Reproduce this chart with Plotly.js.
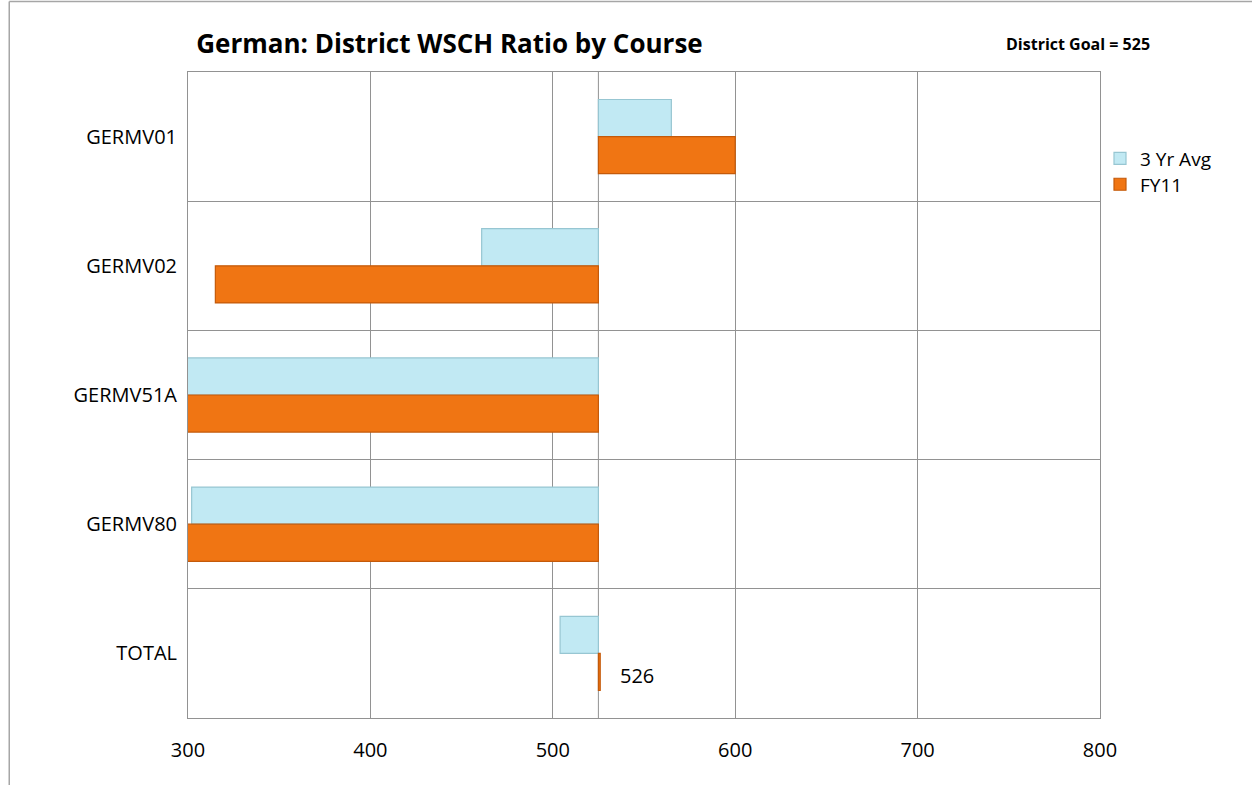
<!DOCTYPE html>
<html>
<head>
<meta charset="utf-8">
<script src="https://cdn.plot.ly/plotly-3.0.1.min.js"></script>
<style>html,body{margin:0;padding:0;background:#fff;}#chart{width:1252px;height:785px;}</style>
</head>
<body>
<div id="chart"></div>
<script>
// ---- data ----
const courses = ['GERMV01', 'GERMV02', 'GERMV51A', 'GERMV80', 'TOTAL'];
const avg3Yr = [565, 461, 285, 302, 504];
const fy11 = [600, 315, 280, 280, 526];
const districtGoal = 525;
const seriesNames = ['3 Yr Avg', 'FY11'];
const xTicks = [300, 400, 500, 600, 700, 800];
const chartTitle = 'German: District WSCH Ratio by Course';
const goalLabel = 'District Goal = ' + districtGoal;

const FONT = 'Open Sans, Lato, sans-serif';
const GRID = '#929292';

const traces = [
  {
    type: 'bar', orientation: 'h', name: seriesNames[0],
    y: courses, x: avg3Yr.map(v => v - districtGoal), base: districtGoal,
    marker: {color: '#c1e9f3', line: {color: '#97c6d2', width: 1.2}},
    hoverinfo: 'skip', legend: 'legend'
  },
  {
    type: 'bar', orientation: 'h', name: seriesNames[1],
    y: courses, x: fy11.map(v => v - districtGoal), base: districtGoal,
    marker: {color: '#f07513', line: {color: '#c45a0a', width: 1.2}},
    hoverinfo: 'skip', legend: 'legend2'
  }
];

const legendBase = {
  xanchor: 'left', yanchor: 'middle',
  font: {family: FONT, size: 19, color: '#000'},
  bgcolor: 'rgba(0,0,0,0)', itemwidth: 30
};

const layout = {
  width: 1252, height: 785,
  margin: {l: 188, r: 152, t: 72, b: 67},
  paper_bgcolor: '#ffffff', plot_bgcolor: '#ffffff',
  font: {family: FONT, size: 20, color: '#000'},
  barmode: 'group', bargap: 0.426, bargroupgap: 0,
  title: {
    text: '<b>' + chartTitle + '</b>',
    font: {family: FONT, size: 26, color: '#000'},
    xref: 'container', x: 0.359, xanchor: 'center',
    yref: 'container', y: 0.944, yanchor: 'middle'
  },
  xaxis: {
    range: [xTicks[0], xTicks[xTicks.length - 1]],
    tickvals: xTicks, ticktext: xTicks.map(String),
    showgrid: true, gridcolor: GRID, gridwidth: 1,
    showline: true, linecolor: GRID, linewidth: 1, mirror: true,
    zeroline: false, ticks: '', ticklabelstandoff: 14,
    tickfont: {family: FONT, size: 20, color: '#000'}, fixedrange: true
  },
  yaxis: {
    type: 'category', categoryorder: 'array', categoryarray: courses,
    autorange: 'reversed', tickson: 'boundaries',
    showgrid: true, gridcolor: GRID, gridwidth: 1,
    showline: true, linecolor: GRID, linewidth: 1, mirror: true,
    ticks: '', ticklabelstandoff: 6,
    tickfont: {family: FONT, size: 20, color: '#000'}, fixedrange: true
  },
  legend: Object.assign({x: 1.0, y: 0.866}, legendBase),
  legend2: Object.assign({x: 1.0, y: 0.826}, legendBase),
  shapes: [
    {type: 'line', xref: 'x', yref: 'paper', x0: districtGoal, x1: districtGoal, y0: 0, y1: 1,
     line: {color: GRID, width: 1}, layer: 'below'},
    {type: 'line', xref: 'paper', yref: 'paper', x0: -0.196, x1: 1.17, y0: 1.109, y1: 1.109,
     line: {color: '#a6a6a6', width: 1.5}},
    {type: 'line', xref: 'paper', yref: 'paper', x0: -0.196, x1: -0.196, y0: 1.109, y1: -0.11,
     line: {color: '#a6a6a6', width: 1.5}}
  ],
  annotations: [
    {text: '<b>' + goalLabel + '</b>', xref: 'paper', yref: 'paper',
     x: 0.976, y: 1.043, xanchor: 'center', yanchor: 'middle', showarrow: false,
     font: {family: FONT, size: 16, color: '#000'}},
    {text: String(fy11[4]), xref: 'x', yref: 'y', x: fy11[4], y: courses[4],
     xanchor: 'left', yanchor: 'middle', xshift: 18, yshift: -22, showarrow: false,
     font: {family: FONT, size: 20, color: '#000'}}
  ],
  showlegend: true
};

Plotly.newPlot('chart', traces, layout, {displayModeBar: false, staticPlot: true});
</script>
</body>
</html>
